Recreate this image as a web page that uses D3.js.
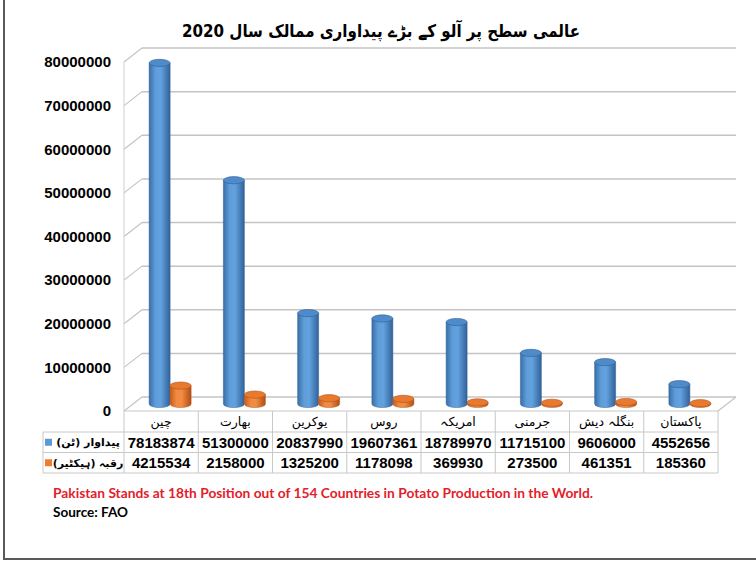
<!DOCTYPE html>
<html><head><meta charset="utf-8">
<script src="https://cdn.jsdelivr.net/npm/d3@7"></script>
<style>html,body{margin:0;padding:0;background:#fff;}svg{display:block;}</style>
</head><body>
<script>
const categories = ["چین","بھارت","یوکرین","روس","امریکہ","جرمنی","بنگلہ دیش","پاکستان"];
const production = [78183874,51300000,20837990,19607361,18789970,11715100,9606000,4552656];
const area = [4215534,2158000,1325200,1178098,369930,273500,461351,185360];
const seriesNames = ["پیداوار (ٹن)","رقبہ (ہیکٹیر)"];
const yTicks = [0,10000000,20000000,30000000,40000000,50000000,60000000,70000000,80000000];
const title = "عالمی سطح پر آلو کے بڑے پیداواری ممالک سال 2020";
const note = "Pakistan Stands at 18th Position out of 154 Countries in Potato Production in the World.";
const source = "Source: FAO";

const W=756,H=564;
const svg=d3.select("body").append("svg").attr("width",W).attr("height",H);
const defs=svg.append("defs");

// frame
svg.append("line").attr("x1",4).attr("x2",4).attr("y1",0).attr("y2",559).attr("stroke","#595959").attr("stroke-width",2);
svg.append("line").attr("x1",3).attr("x2",W).attr("y1",559).attr("y2",559).attr("stroke","#595959").attr("stroke-width",2);

// title
svg.append("text").attr("x",381).attr("y",37).attr("text-anchor","middle").style("direction","rtl")
  .attr("font-family","'DejaVu Sans', sans-serif").attr("font-weight","bold").attr("font-size",17.5)
  .attr("textLength",398).attr("lengthAdjust","spacingAndGlyphs").attr("fill","#000").text(title);

// geometry
const x0=124, x1=718, dX=18, dY=-14;
const x=d3.scaleBand().domain(categories).range([x0,x1]);
const y=d3.scaleLinear().domain([0,80000000]).range([411,62]);
const sub=d3.scaleBand().domain([0,1]).range([-21,21]);

const grid="#c4c4c4";
const g=svg.append("g");
yTicks.forEach(t=>{
  g.append("line").attr("x1",x0+dX).attr("x2",x1+dX).attr("y1",y(t)+dY).attr("y2",y(t)+dY).attr("stroke",grid).attr("stroke-width",1.5);
  g.append("line").attr("x1",x0).attr("x2",x0+dX).attr("y1",y(t)).attr("y2",y(t)+dY).attr("stroke",grid).attr("stroke-width",1.2);
});
g.append("line").attr("x1",x0).attr("x2",x0).attr("y1",y(80000000)).attr("y2",y(0)).attr("stroke","#d0d0d0").attr("stroke-width",1);
g.append("line").attr("x1",x1).attr("x2",x1+dX).attr("y1",y(0)).attr("y2",y(0)+dY).attr("stroke",grid).attr("stroke-width",1.2);

// y axis labels
const yAxis=d3.axisLeft(y).tickValues(yTicks).tickFormat(d3.format("d")).tickSize(0).tickPadding(0);
const ya=svg.append("g").attr("transform","translate(111,0)").call(yAxis);
ya.select(".domain").remove();
ya.selectAll("text").attr("font-family","'Liberation Sans', Arial, sans-serif").attr("font-weight","bold").attr("font-size",15).attr("fill","#000");

// gradients
function grad(id,stops){
  const lg=defs.append("linearGradient").attr("id",id).attr("x1","0%").attr("x2","100%").attr("y1","0%").attr("y2","0%");
  stops.forEach(s=>lg.append("stop").attr("offset",s[0]).attr("stop-color",s[1]));
}
grad("gBlue",[["0%","#3a6ea8"],["30%","#5e9dd9"],["55%","#63a2de"],["100%","#32629a"]]);
grad("gOrange",[["0%","#c85a18"],["30%","#f08a40"],["55%","#f28c42"],["100%","#b04e12"]]);
const tops=["#4f8bca","#e87a30"];
const fills=["url(#gBlue)","url(#gOrange)"];
const edges=["#2f5f96","#b5531a"];

const series=[production,area];
const rx=10.5, ry=3.6;
const bars=svg.append("g");
categories.forEach((c,i)=>{
  const cx=x(c)+x.bandwidth()/2+dX/2;
  const by=y(0)+dY/2;
  [0,1].forEach(s=>{
    const v=series[s][i];
    const mx=cx+sub(s)+sub.bandwidth()/2;
    const ty=by-(y(0)-y(v));
    const l=mx-rx, r=mx+rx;
    bars.append("path")
      .attr("d",`M${l},${ty} L${l},${by} A${rx},${ry} 0 0 0 ${r},${by} L${r},${ty} Z`)
      .attr("fill",fills[s]).attr("stroke",edges[s]).attr("stroke-width",0.5);
    bars.append("ellipse").attr("cx",mx).attr("cy",ty).attr("rx",rx).attr("ry",ry)
      .attr("fill",tops[s]).attr("stroke",edges[s]).attr("stroke-width",0.6);
  });
});

// table
const tg=svg.append("g");
const tl="#c8c8c8";
const rows=[411,432,452.5,473];
const legL=43;
tg.append("line").attr("x1",x0).attr("x2",x1).attr("y1",rows[0]).attr("y2",rows[0]).attr("stroke",tl);
[1,2,3].forEach(k=>tg.append("line").attr("x1",legL).attr("x2",x1).attr("y1",rows[k]).attr("y2",rows[k]).attr("stroke",tl));
tg.append("line").attr("x1",legL).attr("x2",legL).attr("y1",rows[1]).attr("y2",rows[3]).attr("stroke",tl);
categories.forEach(c=>tg.append("line").attr("x1",x(c)).attr("x2",x(c)).attr("y1",rows[0]).attr("y2",rows[3]).attr("stroke",tl));
tg.append("line").attr("x1",x1).attr("x2",x1).attr("y1",rows[0]).attr("y2",rows[3]).attr("stroke",tl);

categories.forEach(c=>{
  tg.append("text").attr("x",x(c)+x.bandwidth()/2).attr("y",(rows[0]+rows[1])/2+4).attr("text-anchor","middle")
    .style("direction","rtl").attr("font-family","'DejaVu Sans', sans-serif").attr("font-size",12.5).attr("fill","#000").text(c);
});
const legColors=["#5b9bd5","#ed7d31"];
series.forEach((arr,s)=>{
  const cy=(rows[s+1]+rows[s+2])/2;
  arr.forEach((v,i)=>{
    tg.append("text").attr("x",x(categories[i])+x.bandwidth()/2).attr("y",cy+5.5).attr("text-anchor","middle")
      .attr("font-family","'Liberation Sans', Arial, sans-serif").attr("font-weight","bold").attr("font-size",15).attr("fill","#000")
      .text(d3.format("d")(v));
  });
  tg.append("rect").attr("x",45).attr("y",cy-3.5).attr("width",7).attr("height",7).attr("fill",legColors[s]);
  tg.append("text").attr("x",88).attr("y",cy+4).attr("text-anchor","middle").style("direction","rtl")
    .attr("font-family","'DejaVu Sans', sans-serif").attr("font-weight","bold").attr("font-size",11).attr("fill","#000").text(seriesNames[s]);
});

// notes
svg.append("text").attr("x",53).attr("y",498).attr("font-family","Lato, 'Open Sans', sans-serif").attr("font-weight","bold")
  .attr("font-size",13.5).attr("fill","#e3202a").attr("textLength",540).attr("lengthAdjust","spacingAndGlyphs").text(note);
svg.append("text").attr("x",53).attr("y",517).attr("font-family","Lato, 'Open Sans', sans-serif").attr("font-weight","bold")
  .attr("font-size",13.5).attr("fill","#000").attr("textLength",75).attr("lengthAdjust","spacingAndGlyphs").text(source);
</script>
</body></html>
